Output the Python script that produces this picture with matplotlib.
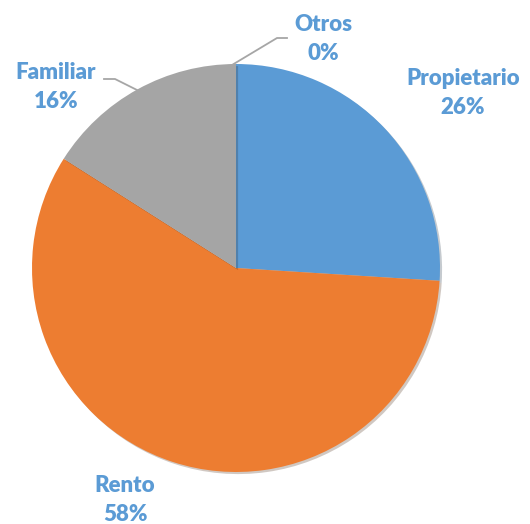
import matplotlib.pyplot as plt
import matplotlib.patheffects as pe

# datos
categorias = ["Propietario", "Rento", "Familiar", "Otros"]
valores = [26, 58, 16, 0]
colores = ["#5B9BD5", "#ED7D31", "#A5A5A5", "#FFC000"]

W, H = 530, 524
fig = plt.figure(figsize=(W / 100, H / 100), dpi=100)
ax = fig.add_axes([0, 0, 1, 1])

# centro y radio en pixeles (y hacia arriba)
cx, cy, r = 236, H - 268, 204

wedges, _ = ax.pie(valores, colors=colores, startangle=90, counterclock=False,
                   center=(cx, cy), radius=r, frame=True,
                   wedgeprops=dict(linewidth=0))
for w in wedges:
    w.set_path_effects([pe.SimplePatchShadow(offset=(1.5, -1.5), alpha=0.25), pe.Normal()])
ax.set_xlim(0, W)
ax.set_ylim(0, H)
ax.set_aspect("equal")
ax.axis("off")

# lineas guia
ax.plot([232, 277, 287], [H - 65, H - 38, H - 38], color="#A6A6A6", lw=1.3)
ax.plot([104, 115, 137], [H - 79, H - 79, H - 90], color="#A6A6A6", lw=1.3)

pos = {"Propietario": (463, 93), "Rento": (125, 500),
       "Familiar": (56, 87), "Otros": (323, 39)}
for cat, v in zip(categorias, valores):
    x, y = pos[cat]
    ax.text(x, H - y, f"{cat}\n{v}%", ha="center", va="center",
            color="#5B9BD5", fontsize=16, fontweight="heavy",
            family="Lato", linespacing=1.45)

fig.savefig("out.png", dpi=100)
